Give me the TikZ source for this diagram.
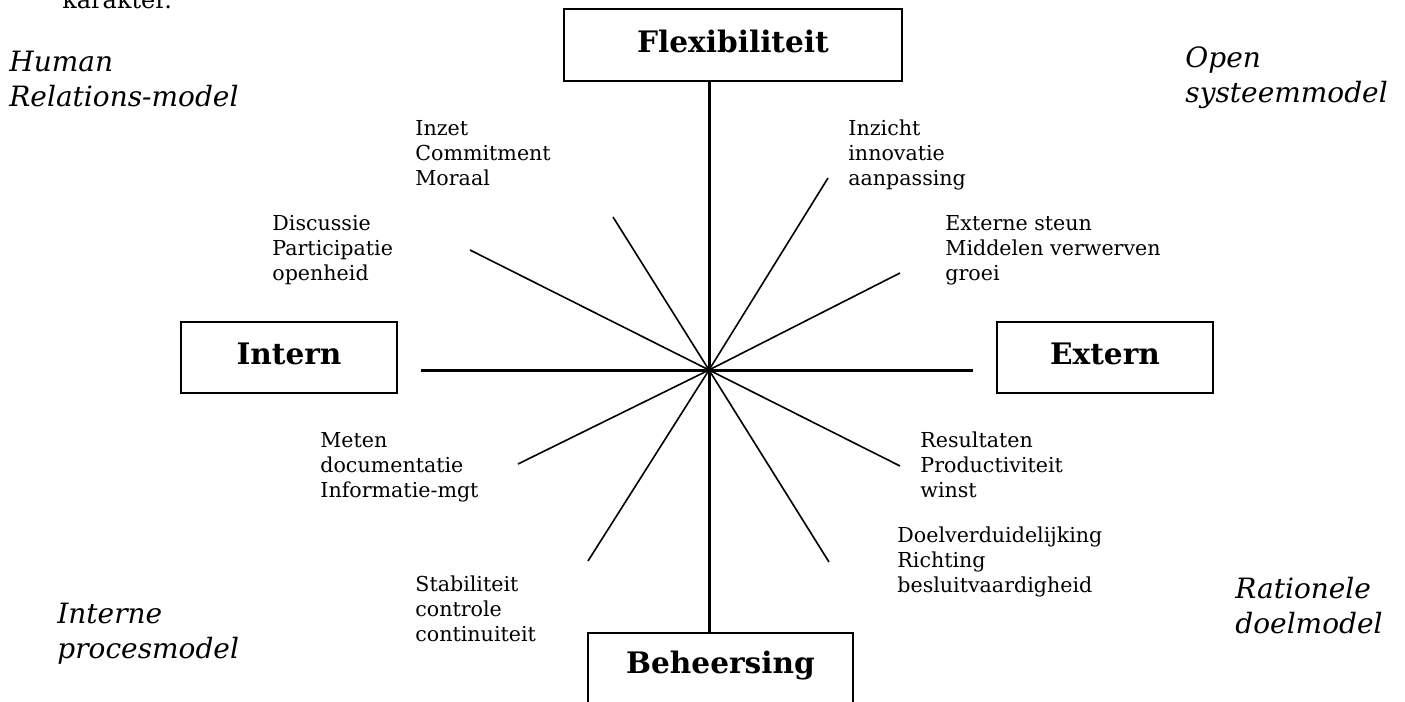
\documentclass[tikz,border=0pt]{standalone}
\usepackage{fontspec}
\setmainfont{DejaVu Serif}
\begin{document}
\begin{tikzpicture}[x=0.5pt,y=-0.5pt,
  axis/.style={line width=1.5pt},
  spoke/.style={line width=0.8pt},
  boxnode/.style={draw, line width=1pt, inner sep=0pt,
    font=\fontsize{14.8pt}{17pt}\selectfont\bfseries,
    text height=10pt, text depth=3pt},
  item/.style={anchor=base west, inner sep=0pt, align=left,
    font=\fontsize{10.3pt}{12.5pt}\selectfont},
  model/.style={anchor=base west, inner sep=0pt, align=left,
    font=\fontsize{14pt}{17.5pt}\selectfont\itshape}]
\clip (0,0) rectangle (1405,702);
\fill[white] (0,0) rectangle (1405,702);

% text of the paragraph above, cut by the page edge
\node[anchor=base west, inner sep=0pt, font=\fontsize{12pt}{15pt}\selectfont] (kar) at (62,8) {karakter.};

% the four poles
\node[boxnode, minimum width=169pt, minimum height=36pt] (flex) at (733,45) {Flexibiliteit};
\node[boxnode, minimum width=108pt, minimum height=35.5pt] (intern) at (289,357.5) {Intern};
\node[boxnode, minimum width=108pt, minimum height=35.5pt] (extern) at (1105,357.5) {Extern};
\node[boxnode, minimum width=132.5pt, minimum height=40pt, text depth=9.5pt] (beh) at (720.5,673) {Beheersing};

% centre of the cross
\coordinate (c) at (709,370);
\coordinate (hl) at (421,370);
\coordinate (hr) at (973,370);

% main axes
\draw[axis] (c |- flex.south) -- (c |- beh.north);
\draw[axis] (hl) -- (hr);

% spoke ends
\coordinate (s1) at (613,217);
\coordinate (s2) at (470,250);
\coordinate (s3) at (828,178);
\coordinate (s4) at (900,273);
\coordinate (s5) at (518,464);
\coordinate (s6) at (588,561);
\coordinate (s7) at (900,466);
\coordinate (s8) at (829,562);
\foreach \s in {s1,s2,s3,s4,s5,s6,s7,s8}
  \draw[spoke] (c) -- (\s);

% spoke labels (anchored at the baseline of their last line)
\node[item] (l1) at (415,185) {Inzet\\Commitment\\Moraal};
\node[item] (l2) at (272,280) {Discussie\\Participatie\\openheid};
\node[item] (l3) at (848,185) {Inzicht\\innovatie\\aanpassing};
\node[item] (l4) at (945,280) {Externe steun\\Middelen verwerven\\groei};
\node[item] (l5) at (320,497) {Meten\\documentatie\\Informatie-mgt};
\node[item] (l6) at (415,641) {Stabiliteit\\controle\\continuiteit};
\node[item] (l7) at (920,497) {Resultaten\\Productiviteit\\winst};
\node[item] (l8) at (897,592) {Doelverduidelijking\\Richting\\besluitvaardigheid};

% model names in the corners
\node[model] (m1) at (9,106) {Human\\Relations-model};
\node[model] (m2) at (1185,102) {Open\\systeemmodel};
\node[model] (m3) at (57,658) {Interne\\procesmodel};
\node[model] (m4) at (1235,633) {Rationele\\doelmodel};
\end{tikzpicture}
\end{document}
